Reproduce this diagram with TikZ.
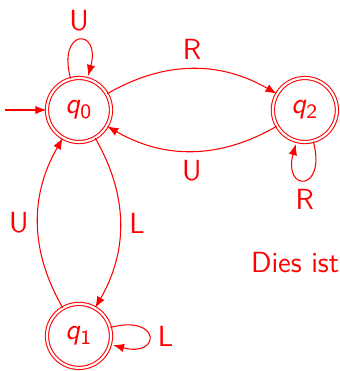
\documentclass[tikz,border=0pt]{standalone}
\usepackage{fontspec}
\usetikzlibrary{arrows.meta}
\renewcommand{\familydefault}{\sfdefault}

\begin{document}
\begin{tikzpicture}[>={Latex[length=4.2pt,width=3.2pt]}, red, auto,
    font=\fontsize{11}{13}\selectfont,
    zustand/.style={circle, draw=red, double, double distance=0.8pt, minimum size=0.85cm, inner sep=0pt}]
            \useasboundingbox (-1.049,-3.466) rectangle (3.466,1.461);

            \node[zustand] (q0) at (0,0) {\textit{q}\textsubscript{0}};
            \node[zustand] (q1) at (0,-3) {\textit{q}\textsubscript{1}};
            \node[zustand] (q2) at (3,0) {\textit{q}\textsubscript{2}};
            \coordinate (S) at (-0.98,0);

            \draw[->] (S) -- (q0);
            \path[->] (q0) edge[loop above] node {U} ();
            \path[->] (q1) edge[loop right] node {L} ();
            \path[->] (q2) edge[loop below] node {R} ();

            \path[->] (q0) edge[bend left] node {R} (q2);
            \path[->] (q2) edge[bend left] node {U} (q0);
            \path[->] (q0) edge[bend left] node {L} (q1);
            \path[->] (q1) edge[bend left] node {U} (q0);

            \node (hinweis) at (2.87,-2.02) {Dies ist};
        \end{tikzpicture}
\end{document}
